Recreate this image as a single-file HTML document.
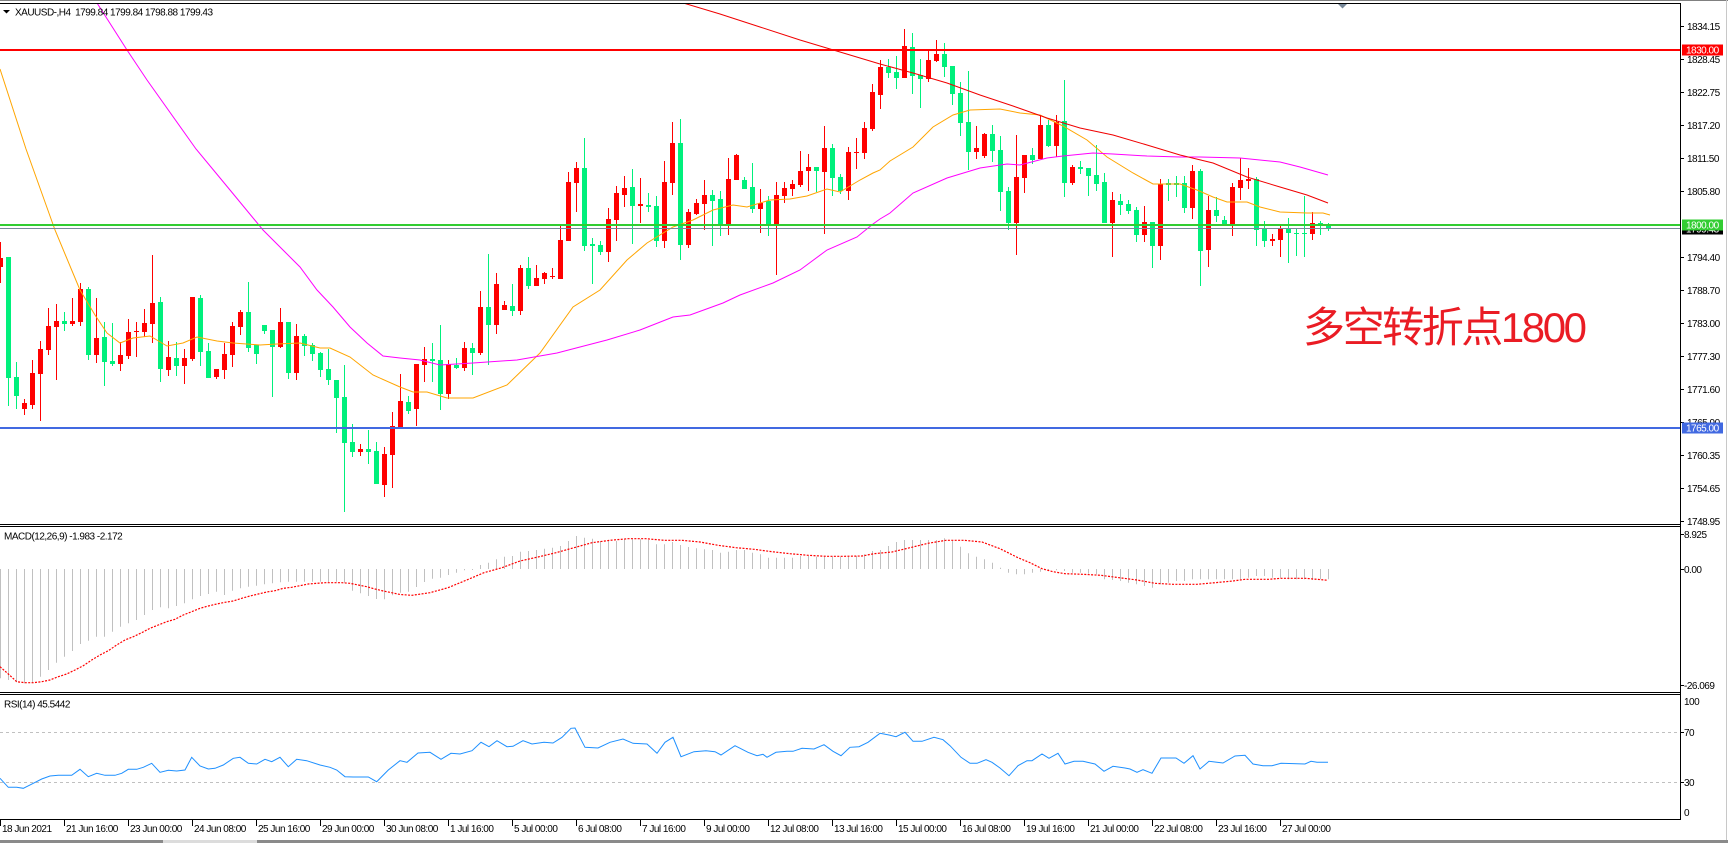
<!DOCTYPE html>
<html><head><meta charset="utf-8"><style>
html,body{margin:0;padding:0;background:#fff;width:1728px;height:843px;overflow:hidden}
svg{display:block}
text{font-family:"Liberation Sans",sans-serif;font-size:10px;letter-spacing:-0.5px;fill:#000}
.w{fill:#fff}
</style></head><body>
<svg width="1728" height="843" viewBox="0 0 1728 843" xmlns="http://www.w3.org/2000/svg">
<defs>
<clipPath id="cm"><rect x="0" y="4" width="1680" height="520"/></clipPath>
<clipPath id="cd"><rect x="0" y="527" width="1680" height="165"/></clipPath>
<clipPath id="cr"><rect x="0" y="696" width="1680" height="123"/></clipPath>
</defs>
<rect width="1728" height="843" fill="#fff"/>
<!-- frames -->
<rect x="0" y="0" width="1728" height="1" fill="#808080"/>
<rect x="0" y="3" width="1680" height="1" fill="#000"/>
<rect x="1680" y="3" width="1" height="817" fill="#000"/>
<rect x="0" y="524" width="1680" height="1" fill="#000"/>
<rect x="0" y="526" width="1680" height="1" fill="#000"/>
<rect x="0" y="692" width="1680" height="1" fill="#000"/>
<rect x="0" y="694" width="1680" height="1" fill="#000"/>
<rect x="0" y="819" width="1680" height="1" fill="#000"/>
<rect x="1726" y="0" width="1" height="843" fill="#c8c8c8"/>
<rect x="0" y="840" width="1728" height="3" fill="#8a8a8a"/>
<rect x="163" y="840" width="94" height="3" fill="#dcdcdc"/>
<polygon points="1338,4 1347,4 1342.5,8.5" fill="#778899"/>

<!-- main chart -->
<g clip-path="url(#cm)">
<path fill="none" stroke="#ff0000" stroke-width="1" d="M0.5 242V283M24.5 399V415M32.5 360V409M40.5 341V421M48.5 308V355M56.5 304V380M72.5 298V326M80.5 283V326M96.5 298V363M120.5 342V371M128.5 319V359M136.5 322V357M144.5 309V337M152.5 255V343M168.5 341V376M184.5 349V384M192.5 297V361M216.5 369V379M224.5 343V379M232.5 322V367M240.5 310V335M280.5 308V348M296.5 324V380M360.5 444V456M384.5 447V497M392.5 412V488M400.5 374V427M416.5 364V426M424.5 347V382M448.5 360V399M464.5 342V371M480.5 291V355M496.5 273V334M504.5 301V310M520.5 265V315M536.5 265V286M544.5 272V284M552.5 268V279M560.5 226V279M568.5 172V241M576.5 162V212M608.5 208V262M616.5 186V241M624.5 176V207M640.5 178V223M664.5 161V248M672.5 122V195M688.5 209V248M696.5 199V215M704.5 180V230M728.5 158V235M736.5 154V180M760.5 189V233M776.5 182V275M784.5 182V203M792.5 180V196M800.5 151V187M808.5 154V191M824.5 126V234M848.5 147V200M856.5 138V169M864.5 122V159M872.5 84V131M880.5 60V109M904.5 29V78M928.5 51V82M936.5 40V62M976.5 126V159M984.5 133V158M1016.5 135V255M1024.5 155V193M1040.5 115V159M1056.5 115V157M1072.5 165V185M1112.5 192V257M1144.5 206V242M1160.5 179V260M1192.5 165V219M1208.5 196V267M1232.5 183V236M1240.5 158V200M1248.5 168V189M1272.5 234V246M1280.5 226V257M1312.5 212V240"/>
<path fill="#ff0000" d="M-2 258h5V267h-5zM22 403h5V409h-5zM30 373h5V405h-5zM38 349h5V374h-5zM46 326h5V350h-5zM54 321h5V327h-5zM70 321h5V324h-5zM78 289h5V322h-5zM94 338h5V355h-5zM118 355h5V364h-5zM126 332h5V356h-5zM134 331h5V332h-5zM142 323h5V332h-5zM150 303h5V324h-5zM166 357h5V370h-5zM182 358h5V366h-5zM190 297h5V359h-5zM214 369h5V377h-5zM222 354h5V370h-5zM230 326h5V355h-5zM238 312h5V327h-5zM278 322h5V347h-5zM294 336h5V373h-5zM358 449h5V452h-5zM382 454h5V485h-5zM390 426h5V455h-5zM398 401h5V427h-5zM414 364h5V409h-5zM422 359h5V365h-5zM446 364h5V394h-5zM462 348h5V368h-5zM478 307h5V353h-5zM494 284h5V325h-5zM502 305h5V310h-5zM518 268h5V311h-5zM534 278h5V286h-5zM542 273h5V279h-5zM550 276h5V277h-5zM558 240h5V279h-5zM566 182h5V241h-5zM574 168h5V183h-5zM606 219h5V252h-5zM614 193h5V220h-5zM622 188h5V195h-5zM638 204h5V206h-5zM662 182h5V241h-5zM670 143h5V183h-5zM686 212h5V245h-5zM694 203h5V214h-5zM702 195h5V204h-5zM726 179h5V224h-5zM734 155h5V180h-5zM758 203h5V209h-5zM774 195h5V225h-5zM782 188h5V196h-5zM790 184h5V189h-5zM798 171h5V185h-5zM806 167h5V171h-5zM822 148h5V172h-5zM846 152h5V191h-5zM854 152h5V153h-5zM862 128h5V153h-5zM870 92h5V129h-5zM878 67h5V95h-5zM902 46h5V78h-5zM926 60h5V79h-5zM934 54h5V61h-5zM974 148h5V152h-5zM982 134h5V156h-5zM1014 177h5V223h-5zM1022 155h5V178h-5zM1038 125h5V159h-5zM1054 122h5V146h-5zM1070 167h5V183h-5zM1110 200h5V223h-5zM1142 222h5V235h-5zM1158 184h5V246h-5zM1190 171h5V208h-5zM1206 210h5V250h-5zM1230 187h5V224h-5zM1238 180h5V188h-5zM1246 179h5V181h-5zM1270 239h5V241h-5zM1278 229h5V240h-5zM1310 223h5V234h-5z"/>
<path fill="none" stroke="#00f07c" stroke-width="1" d="M8.5 257V406M16.5 362V409M64.5 312V331M88.5 287V360M104.5 322V386M112.5 323V366M160.5 297V382M176.5 342V376M200.5 295V366M208.5 343V378M248.5 282V352M256.5 345V364M264.5 325V334M272.5 330V397M288.5 322V379M304.5 334V356M312.5 343V361M320.5 352V377M328.5 349V385M336.5 380V433M344.5 365V512M352.5 424V457M368.5 430V464M376.5 442V484M408.5 396V414M432.5 343V382M440.5 325V410M456.5 358V369M472.5 343V375M488.5 254V365M512.5 284V316M528.5 257V289M584.5 138V251M592.5 238V284M600.5 241V255M632.5 169V244M648.5 193V212M656.5 196V247M680.5 119V260M712.5 190V246M720.5 191V236M744.5 177V189M752.5 163V213M768.5 196V236M816.5 167V192M832.5 144V196M840.5 174V194M888.5 59V78M896.5 56V89M912.5 33V94M920.5 59V108M944.5 43V77M952.5 66V105M960.5 82V136M968.5 71V170M992.5 125V162M1000.5 136V211M1008.5 187V230M1032.5 148V164M1048.5 120V147M1064.5 80V197M1080.5 161V174M1088.5 168V196M1096.5 145V191M1104.5 173V223M1120.5 194V215M1128.5 200V214M1136.5 207V242M1152.5 222V268M1168.5 179V201M1176.5 176V197M1184.5 176V213M1200.5 169V286M1216.5 197V222M1224.5 216V224M1256.5 177V246M1264.5 221V247M1288.5 218V263M1296.5 228V256M1304.5 196V257M1320.5 221V235M1328.5 223V231"/>
<path fill="#00f07c" d="M6 257h5V378h-5zM14 377h5V396h-5zM62 321h5V324h-5zM86 289h5V355h-5zM102 337h5V362h-5zM110 361h5V364h-5zM158 302h5V369h-5zM174 358h5V366h-5zM198 298h5V352h-5zM206 351h5V378h-5zM246 312h5V348h-5zM254 345h5V354h-5zM262 325h5V331h-5zM270 330h5V347h-5zM286 322h5V373h-5zM302 336h5V346h-5zM310 345h5V354h-5zM318 353h5V370h-5zM326 369h5V380h-5zM334 380h5V398h-5zM342 397h5V443h-5zM350 442h5V452h-5zM366 449h5V452h-5zM374 451h5V484h-5zM406 402h5V411h-5zM430 359h5V361h-5zM438 360h5V394h-5zM454 365h5V368h-5zM470 348h5V353h-5zM486 307h5V325h-5zM510 306h5V311h-5zM526 268h5V286h-5zM582 168h5V246h-5zM590 244h5V246h-5zM598 245h5V252h-5zM630 187h5V206h-5zM646 205h5V207h-5zM654 206h5V241h-5zM678 143h5V245h-5zM710 195h5V201h-5zM718 199h5V224h-5zM742 180h5V189h-5zM750 187h5V209h-5zM766 201h5V225h-5zM814 167h5V171h-5zM830 148h5V178h-5zM838 177h5V191h-5zM886 67h5V73h-5zM894 72h5V78h-5zM910 47h5V76h-5zM918 75h5V79h-5zM942 54h5V67h-5zM950 66h5V94h-5zM958 93h5V123h-5zM966 122h5V152h-5zM990 134h5V151h-5zM998 150h5V192h-5zM1006 191h5V223h-5zM1030 155h5V160h-5zM1046 125h5V146h-5zM1062 121h5V183h-5zM1078 167h5V169h-5zM1086 168h5V176h-5zM1094 175h5V184h-5zM1102 182h5V223h-5zM1118 201h5V205h-5zM1126 204h5V211h-5zM1134 210h5V235h-5zM1150 222h5V246h-5zM1166 183h5V185h-5zM1174 183h5V185h-5zM1182 183h5V208h-5zM1198 171h5V251h-5zM1214 210h5V216h-5zM1222 220h5V224h-5zM1254 179h5V230h-5zM1262 228h5V241h-5zM1286 229h5V233h-5zM1294 233h5V234h-5zM1302 233h5V234h-5zM1318 223h5V224h-5zM1326 225h5V229h-5z"/>
<!-- moving averages -->
<polyline fill="none" stroke="#ffa500" stroke-width="1" points="0,69 26,149 55,230 80,290 95,315 107,333 120,343 133,338 150,336 167,346 183,343 197,337 217,341 233,343 260,345 277,344 300,343 320,348 330,348 350,357 373,375 400,387 413,392 427,392 447,398 473,398 507,385 540,353 573,307 600,290 627,260 647,243 673,227 693,220 713,210 733,205 747,207 770,200 790,199 807,196 827,189 840,192 860,180 873,173 880,170 890,161 913,147 933,127 953,115 970,110 1000,109 1020,113 1040,115 1063,126 1087,140 1107,157 1133,173 1153,184 1180,184 1197,190 1213,197 1227,202 1247,202 1260,207 1280,212 1307,213 1323,213 1330,215"/>
<polyline fill="none" stroke="#ff00ff" stroke-width="1" points="97,3 127,50 147,80 196,149 230,190 263,230 283,250 300,267 317,290 333,307 350,327 367,343 383,356 400,358 420,360 440,365 473,363 517,360 557,353 580,347 607,340 640,330 673,317 690,315 723,303 740,295 773,283 800,270 827,250 857,237 873,224 880,219 890,213 913,193 947,178 980,168 1007,164 1020,165 1047,158 1063,156 1093,153 1113,154 1147,156 1180,157 1200,157 1240,158 1280,162 1300,167 1328,175"/>
<polyline fill="none" stroke="#f00000" stroke-width="1" points="680,2 720,14 760,27 800,40 840,52 880,64 913,73 947,83 980,95 1013,106 1047,118 1080,128 1113,135 1147,145 1180,155 1213,163 1247,177 1280,187 1307,195 1328,203"/>
</g>
<!-- horizontal lines -->
<rect x="0" y="49" width="1680" height="2" fill="#ff0000"/>
<rect x="0" y="224" width="1680" height="2" fill="#32cd32"/>
<rect x="0" y="228" width="1680" height="1" fill="#778899"/>
<rect x="0" y="427" width="1680" height="2" fill="#4169e1"/>

<text x="1303" y="342" textLength="284" lengthAdjust="spacing" style="font-family:'Liberation Sans','Noto Sans CJK SC',sans-serif;font-size:42px;letter-spacing:0;fill:#ea1c24">多空转折点1800</text>

<!-- top-left label -->
<polygon points="3,10 10,10 6.5,13.5" fill="#000"/>
<text x="15" y="15.5">XAUUSD-,H4&#160;&#160;1799.84 1799.84 1798.88 1799.43</text>

<!-- right axis main -->
<path stroke="#000" stroke-width="1" d="M1680 26.5h4M1680 59.5h4M1680 92.5h4M1680 125.5h4M1680 158.5h4M1680 191.5h4M1680 257.5h4M1680 290.5h4M1680 323.5h4M1680 356.5h4M1680 389.5h4M1680 422.5h4M1680 455.5h4M1680 488.5h4M1680 521.5h4M1680 534.5h4M1680 569.5h4M1680 685.5h4M1680 732.5h4M1680 782.5h4"/>
<text x="1687" y="30">1834.15</text>
<text x="1687" y="63">1828.45</text>
<text x="1687" y="96">1822.75</text>
<text x="1687" y="129">1817.20</text>
<text x="1687" y="162">1811.50</text>
<text x="1687" y="195">1805.80</text>
<text x="1687" y="261">1794.40</text>
<text x="1687" y="294">1788.70</text>
<text x="1687" y="327">1783.00</text>
<text x="1687" y="360">1777.30</text>
<text x="1687" y="393">1771.60</text>
<text x="1687" y="426">1765.90</text>
<text x="1687" y="459">1760.35</text>
<text x="1687" y="492">1754.65</text>
<text x="1687" y="525">1748.95</text>

<rect x="1682" y="44.5" width="41" height="11" fill="#ff0000"/>
<text x="1686" y="53.5" class="w">1830.00</text>
<rect x="1682" y="223" width="41" height="11.5" fill="#000"/>
<text x="1686" y="232.5" class="w">1799.43</text>
<rect x="1682" y="219.5" width="41" height="11" fill="#32cd32"/>
<text x="1686" y="228.5" class="w">1800.00</text>
<rect x="1682" y="422.5" width="41" height="11" fill="#4169e1"/>
<text x="1686" y="431.5" class="w">1765.00</text>

<!-- MACD -->
<text x="4" y="539.5">MACD(12,26,9) -1.983 -2.172</text>
<text x="1684" y="538">8.925</text>
<text x="1684" y="573">0.00</text>
<text x="1684" y="689">-26.069</text>
<g clip-path="url(#cd)">
<path fill="none" stroke="#c0c0c0" stroke-width="1" d="M0.5 569V678.3M8.5 569V680M16.5 569V682.3M24.5 569V683.3M32.5 569V683.3M40.5 569V676.7M48.5 569V670M56.5 569V662.7M64.5 569V656.7M72.5 569V651M80.5 569V644M88.5 569V640.7M96.5 569V636.7M104.5 569V636.7M112.5 569V631.7M120.5 569V626.7M128.5 569V623.3M136.5 569V620M144.5 569V615M152.5 569V610M160.5 569V607.3M168.5 569V608.3M176.5 569V606M184.5 569V603.3M192.5 569V599.3M200.5 569V596M208.5 569V594M216.5 569V591.7M224.5 569V595M232.5 569V590.7M240.5 569V588.3M248.5 569V586.7M256.5 569V585.7M264.5 569V584.3M272.5 569V583.3M280.5 569V582.3M288.5 569V581.7M296.5 569V581.7M304.5 569V581.7M312.5 569V581.7M320.5 569V581.7M328.5 569V582.3M336.5 569V581.7M344.5 569V582.7M352.5 569V590.7M360.5 569V593.3M368.5 569V596M376.5 569V599M384.5 569V599.3M392.5 569V595.3M400.5 569V592.7M408.5 569V591.7M416.5 569V587M424.5 569V582M432.5 569V578.7M440.5 569V577.7M448.5 569V575M456.5 569V572.7M464.5 569V570.3M472.5 569V570M480.5 569V565M488.5 569V562.7M496.5 569V559.3M504.5 569V556.7M512.5 569V556M520.5 569V551.7M528.5 569V551M536.5 569V550M544.5 569V548.7M552.5 569V547.7M560.5 569V546M568.5 569V541M576.5 569V536M584.5 569V537.7M592.5 569V538.7M600.5 569V541M608.5 569V541M616.5 569V541M624.5 569V539.3M632.5 569V539.3M640.5 569V539.3M648.5 569V540M656.5 569V544.3M664.5 569V544.3M672.5 569V542M680.5 569V545M688.5 569V547M696.5 569V548.3M704.5 569V549.3M712.5 569V550M720.5 569V552.7M728.5 569V551.7M736.5 569V550M744.5 569V550M752.5 569V552.7M760.5 569V554.3M768.5 569V557.7M776.5 569V557.7M784.5 569V557.7M792.5 569V557.7M800.5 569V556M808.5 569V556M816.5 569V556.7M824.5 569V556.7M832.5 569V556.7M840.5 569V556.7M848.5 569V556.7M856.5 569V556M864.5 569V554.3M872.5 569V551M880.5 569V550M888.5 569V546M896.5 569V542M904.5 569V540M912.5 569V540M920.5 569V540M928.5 569V540M936.5 569V540M944.5 569V538.3M952.5 569V541M960.5 569V546.7M968.5 569V553.3M976.5 569V556.7M984.5 569V559.3M992.5 569V562.7M1000.5 569V567.7M1008.5 569V572.7M1016.5 569V574.3M1024.5 569V574.3M1032.5 569V572.7M1040.5 569V571.7M1048.5 569V571M1056.5 569V570.3M1064.5 569V571M1072.5 569V572.7M1080.5 569V572.7M1088.5 569V573.7M1096.5 569V574.3M1104.5 569V579.3M1112.5 569V580M1120.5 569V581M1128.5 569V582.7M1136.5 569V584.3M1144.5 569V586M1152.5 569V587.7M1160.5 569V584.3M1168.5 569V582.7M1176.5 569V581M1184.5 569V581M1192.5 569V579.3M1200.5 569V579.3M1208.5 569V579.3M1216.5 569V579.3M1224.5 569V579.3M1232.5 569V579.3M1240.5 569V579.3M1248.5 569V577.7M1256.5 569V576M1264.5 569V576M1272.5 569V577.7M1280.5 569V577.7M1288.5 569V579.3M1296.5 569V579.3M1304.5 569V579.3M1312.5 569V580M1320.5 569V579.3M1328.5 569V579.3"/>
<polyline fill="none" stroke="#ff0000" stroke-width="1.2" stroke-dasharray="2 1.4" points="0,666.7 8.3,674 16.7,681.7 25,682.7 33.3,682.7 41.7,681.7 50,680 58.3,676.7 66.7,674 75,670 83.3,665.7 91.7,660 100,655 108.3,650.7 116.7,645 125,640 133.3,636.7 141.7,632.7 150,628.3 158.3,625 166.7,621.7 175,619.3 183.3,615 191.7,611.7 200,608.3 208.3,606 216.7,604 225,602.3 233.3,601 241.7,598.3 250,596 258.3,594 266.7,592 275,590.7 283.3,588.3 291.7,587.3 300,585.7 308.3,584 316.7,583.3 325,582.7 333.3,582.7 341.7,582.7 350,583.3 358.3,585 366.7,586.7 375,589 383.3,591 391.7,592.7 400,594.5 412,595.3 430,592.7 448,587.7 466,580.3 484,572.7 502,567.7 520,561 538,557 556,552.7 574,547.7 592,542.7 610,540.3 628,538.7 646,538.7 664,540.3 682,540.3 700,542 718,545.3 736,547.7 754,549.3 772,551.7 790,553.7 808,555.3 826,556.3 844,556.3 862,556 874,553.7 892,552 910,547.7 928,543.3 946,540.3 964,540.3 982,542 1000,548.7 1018,557.7 1030,562.7 1042,568.7 1053,571.7 1065,573.7 1083,574.3 1101,575.3 1119,577.7 1137,580 1155,583.3 1173,584.3 1197,584.3 1215,582.7 1233,581 1245,579.3 1269,579.3 1281,578.3 1305,578.3 1317,579.3 1328,580.3"/>
</g>

<!-- RSI -->
<text x="4" y="707.5">RSI(14) 45.5442</text>
<text x="1684" y="705">100</text>
<text x="1684" y="736">70</text>
<text x="1684" y="786">30</text>
<text x="1684" y="816">0</text>
<path stroke="#c0c0c0" stroke-width="1" stroke-dasharray="3 3" d="M0 732.5H1680M0 782.5H1680"/>
<g clip-path="url(#cr)">
<polyline fill="none" stroke="#1e90ff" stroke-width="1" points="0,778.3 8.3,787.3 16.7,787.3 23.3,788.3 33.3,783.3 41.7,779 50,776 58.3,775.3 71.7,775.3 80,769.3 88.3,776.7 96.7,773.3 105,775.3 115,775.3 121.7,773.3 128.3,769.3 136.7,769.3 143.3,767.3 151.7,763.3 160,772.3 168.3,770.3 176.7,771 185,770 191.7,757.3 200,766 208.3,769 215,768.3 223.3,765 233.3,758.3 240,757.3 248.3,763.3 256.7,764 265,759.3 271.7,761.7 280,757.3 288.3,766.7 296.7,759.3 306.7,760.7 320,765 330,767.3 336.7,770 345,776.7 353.3,777 368.3,777 376.7,781.7 388.3,770 400,760.7 407,762.3 418,753 430,752.3 441,759.3 451,753.3 460,754 472,750.7 481,742.3 489,746.7 497,740.7 507,746.7 513,746.3 523,740.7 532,744 544,742.3 553,743 562,737.3 571,728.3 575,728 585,747.3 598,748 610,742.3 623,739 633,743.3 647,744 657,753.3 665,742.3 673,737.3 681,756.7 694,751.7 706,750.7 715,751.7 721,755 735,745.7 748,752.3 757,755.7 763,754.3 767,757.3 776,752.3 787,751.3 793,751.3 802,748.3 814,749 824,744.7 833,751.3 841,755.7 850,747.3 859,746.7 868,742.3 880,733.3 889,735 896,736.7 905,732.3 913,741.3 922,741.3 934,737.3 943,739.7 950,745.7 961,757.3 970,763.3 977,763.3 986,759.7 992,762.3 1000,768 1009,775.7 1018,765.7 1027,760.7 1032,760.7 1042,754 1049,758.3 1058,753.3 1065,764 1074,761.3 1083,761.3 1095,764 1104,771.3 1113,766.3 1125,768 1130,769 1137,772.3 1143,769.7 1152,773.3 1161,758 1176,758 1184,763.3 1193,755.7 1200,769 1209,761.3 1223,763 1235,756 1245,755.3 1253,764 1263,765.7 1272,765.7 1281,763.3 1305,764 1311,761.3 1317,762.3 1328,762.3"/>
</g>

<!-- time axis -->
<path stroke="#000" stroke-width="1" d="M0.5 819v7M64.5 819v7M128.5 819v7M192.5 819v7M256.5 819v7M320.5 819v7M384.5 819v7M448.5 819v7M512.5 819v7M576.5 819v7M640.5 819v7M704.5 819v7M768.5 819v7M832.5 819v7M896.5 819v7M960.5 819v7M1024.5 819v7M1088.5 819v7M1152.5 819v7M1216.5 819v7M1280.5 819v7"/>
<text x="2" y="832">18 Jun 2021</text>
<text x="66" y="832">21 Jun 16:00</text>
<text x="130" y="832">23 Jun 00:00</text>
<text x="194" y="832">24 Jun 08:00</text>
<text x="258" y="832">25 Jun 16:00</text>
<text x="322" y="832">29 Jun 00:00</text>
<text x="386" y="832">30 Jun 08:00</text>
<text x="450" y="832">1 Jul 16:00</text>
<text x="514" y="832">5 Jul 00:00</text>
<text x="578" y="832">6 Jul 08:00</text>
<text x="642" y="832">7 Jul 16:00</text>
<text x="706" y="832">9 Jul 00:00</text>
<text x="770" y="832">12 Jul 08:00</text>
<text x="834" y="832">13 Jul 16:00</text>
<text x="898" y="832">15 Jul 00:00</text>
<text x="962" y="832">16 Jul 08:00</text>
<text x="1026" y="832">19 Jul 16:00</text>
<text x="1090" y="832">21 Jul 00:00</text>
<text x="1154" y="832">22 Jul 08:00</text>
<text x="1218" y="832">23 Jul 16:00</text>
<text x="1282" y="832">27 Jul 00:00</text>
</svg>
</body></html>
